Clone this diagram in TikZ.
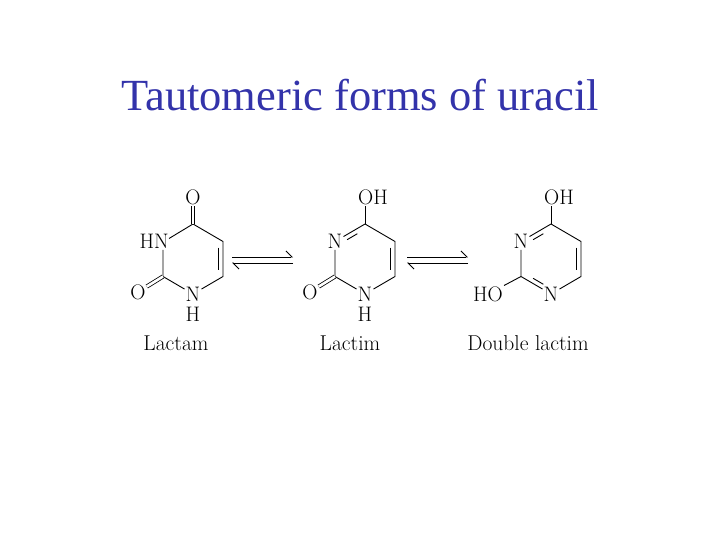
\documentclass[tikz,border=0pt]{standalone}
\usepackage{fontspec}
\newfontfamily\titlefont{Liberation Serif}
\usetikzlibrary{calc,arrows.meta}
\definecolor{titleblue}{RGB}{51,51,170}
\tikzset{
  atom/.style={inner sep=1pt,font=\fontsize{21}{23}\selectfont},
  bond/.style={line width=0.9pt},
  dbl/.style={line width=0.8pt,double,double distance=2.6pt},
  lab/.style={font=\fontsize{21.5}{24}\selectfont},
}
\newcommand{\ringpts}{%
  \coordinate (c) at (0,0);
  \coordinate (v1) at (0,-35);
  \coordinate (v2) at (30,-17.5);
  \coordinate (v3) at (30,17.5);
  \coordinate (v4) at (0,35);
  \coordinate (v5) at (-30,17.5);
  \coordinate (v6) at (-30,-17.5);
}
\newcommand{\innerbond}[3]{%
  \draw[bond] ($ ($(#1)!#3!(#2)$)!0.15!(c) $) -- ($ ($(#2)!#3!(#1)$)!0.15!(c) $);}
\begin{document}
\begin{tikzpicture}[x=1pt,y=-1pt]
\useasboundingbox (0,0) rectangle (720,540);
\node[font=\titlefont\fontsize{44.5}{48}\selectfont,text=titleblue] (title) at (360,95) {Tautomeric forms of uracil};
% Lactam
\begin{scope}[shift={(193,259)}]
  \ringpts
  \node[atom,anchor=east] (n3) at ($(v6)+(7,0)$) {HN};
  \node[atom] (n1) at (v4) {N};
  \node[atom] (h1) at (0,55) {H};
  \node[atom] (o4) at (0,-62) {O};
  \node[atom] (o2) at (-55,33) {O};
  \draw[bond] (v1) -- (v2) -- (v3) -- (n1) -- (v5) -- (v5 |- n3.south);
  \draw[bond] ($(n3.east)+(-1,-3)$) -- (v1);
  \innerbond{v2}{v3}{0.12}
  \draw[dbl] (v1) -- (o4);
  \draw[dbl] (v5) -- (o2);
  \node[lab] (l1) at (-17,84) {Lactam};
\end{scope}
% Lactim
\begin{scope}[shift={(365,259)}]
  \ringpts
  \node[atom] (n3b) at (v6) {N};
  \node[atom] (n1b) at (v4) {N};
  \node[atom] (h1b) at (0,55) {H};
  \node[atom] (o4b) at (8,-62) {OH};
  \node[atom] (o2b) at (-55,33) {O};
  \draw[bond] (v1) -- (v2) -- (v3) -- (n1b) -- (v5) -- (n3b) -- (v1);
  \draw[bond] (v1) -- (o4b.south-|v1);
  \innerbond{v2}{v3}{0.12}
  \innerbond{n3b}{v1}{0.3}
  \draw[dbl] (v5) -- (o2b);
  \node[lab] (l2) at (-15,84) {Lactim};
\end{scope}
% Double lactim
\begin{scope}[shift={(551,259)}]
  \ringpts
  \node[atom] (n3c) at (v6) {N};
  \node[atom] (n1c) at (v4) {N};
  \node[atom] (o4c) at (8,-62) {OH};
  \node[atom] (o2c) at (-63,35) {HO};
  \draw[bond] (v1) -- (v2) -- (v3) -- (n1c) -- (v5) -- (n3c) -- (v1);
  \draw[bond] (v1) -- (o4c.south-|v1);
  \draw[bond] (v5) -- (o2c);
  \innerbond{v2}{v3}{0.12}
  \innerbond{n3c}{v1}{0.3}
  \innerbond{v5}{n1c}{0.3}
  \node[lab] (l3) at (-23,84) {Double lactim};
\end{scope}
% equilibrium arrows
\foreach \x/\n in {232/a,407/b}{
  \coordinate (\n1) at (\x,257); \coordinate (\n2) at (\x+61,257);
  \coordinate (\n3) at (\x+61,263); \coordinate (\n4) at (\x,263);
  \draw[bond,-{Straight Barb[left,length=6pt]}] (\n1) -- (\n2);
  \draw[bond,-{Straight Barb[left,length=6pt]}] (\n3) -- (\n4);
}
\end{tikzpicture}
\end{document}
